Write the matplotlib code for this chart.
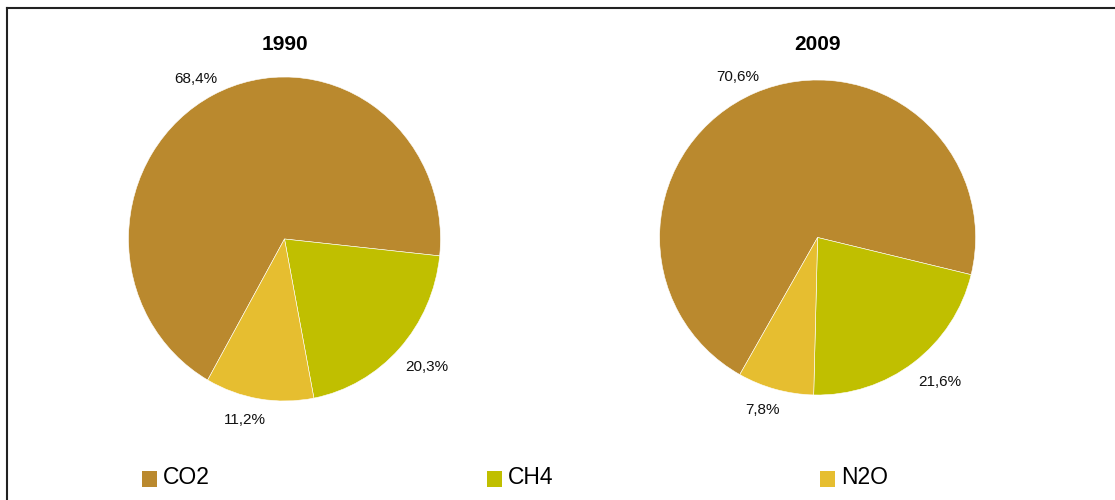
import matplotlib
matplotlib.use("Agg")
import numpy as np
import matplotlib.pyplot as plt
from matplotlib.patches import Rectangle
from matplotlib.lines import Line2D

plt.rcParams["font.family"] = ["Liberation Sans", "DejaVu Sans"]

# data
gases = ["CO2", "CH4", "N2O"]
colors = ["#BA892E", "#C0BF00", "#E6BE30"]
years = ["1990", "2009"]
share_1990 = [68.4, 20.3, 11.2]
share_2009 = [70.6, 21.6, 7.8]
shares = [share_1990, share_2009]

W, H = 1115, 500
fig = plt.figure(figsize=(W / 100, H / 100), dpi=100)


def px_box(cx, cy, rx, ry):
    # axes rectangle in figure fraction from pixel center / radii
    return [(cx - rx) / W, (H - cy - ry) / H, 2 * rx / W, 2 * ry / H]


# pie boxes (center x, center y, radius x, radius y) in pixels
boxes = [(284.5, 239, 156, 162), (817.6, 237.5, 158, 157.5)]

pies = []
for year, vals, box in zip(years, shares, boxes):
    ax = fig.add_axes(px_box(*box))
    labels = [f"{v:.1f}%".replace(".", ",") for v in vals]
    wedges, texts = ax.pie(
        vals,
        colors=colors,
        labels=labels,
        startangle=240.5,
        counterclock=False,
        labeldistance=1.06,
        radius=1.0,
        wedgeprops=dict(edgecolor="white", linewidth=0.4),
        textprops=dict(fontsize=11, color="#111111"),
    )
    ax.set_aspect("auto")
    ax.set_xlim(-1, 1)
    ax.set_ylim(-1, 1)
    pies.append((ax, texts))
    fig.text(box[0] / W, 1 - 45 / H, year, ha="center", va="center",
             fontsize=15, fontweight="bold")

# push labels outward so their box sits just outside the wedge (excel style)
fig.canvas.draw()
for ax, texts in pies:
    inv = ax.transData.inverted()
    for t in texts:
        x, y = t.get_position()
        bb = t.get_window_extent()
        (x0, y0), (x1, y1) = inv.transform([[bb.x0, bb.y0], [bb.x1, bb.y1]])
        hw, hh = abs(x1 - x0) / 2, abs(y1 - y0) / 2
        dy = hh if y > 0 else hh * 1.7
        dx = hw * 0.95 if x > 0 else hw * 0.6
        t.set_position((x + np.sign(x) * dx, y + np.sign(y) * dy))
        t.set_ha("center")
        t.set_va("center")

# legend
leg_x = [142, 487, 820]
for name, col, x in zip(gases, colors, leg_x):
    fig.patches.append(Rectangle((x / W, 1 - 487 / H), 15 / W, 16 / H,
                                 transform=fig.transFigure, facecolor=col,
                                 edgecolor="none"))
    fig.text((x + 21) / W, 1 - 477 / H, name, ha="left", va="center",
             fontsize=16.5)

# outer frame (top and left only visible)
fig.add_artist(Line2D([7 / W, 1.0], [1 - 8 / H, 1 - 8 / H],
                      transform=fig.transFigure, color="#222222", lw=1.5))
fig.add_artist(Line2D([7 / W, 7 / W], [0, 1 - 8 / H],
                      transform=fig.transFigure, color="#222222", lw=1.5))

fig.savefig("out.png", dpi=100)
